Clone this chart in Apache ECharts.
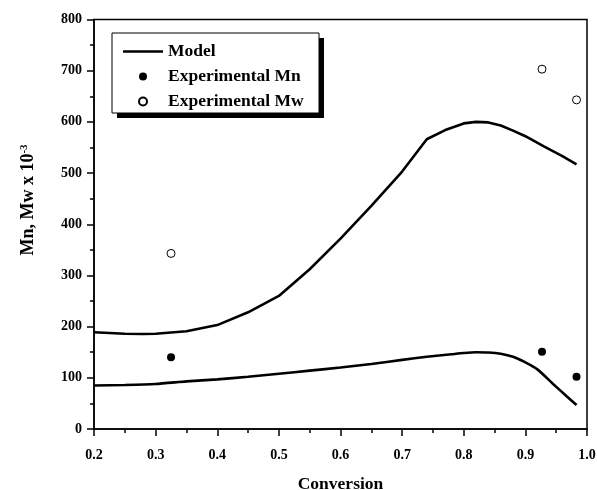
<!DOCTYPE html>
<html>
<head>
<meta charset="utf-8">
<script src="https://cdn.jsdelivr.net/npm/echarts@6/dist/echarts.min.js"></script>
<style>
  html, body { margin: 0; padding: 0; background: #fff; }
  #chart { width: 597px; height: 490px; }
</style>
</head>
<body>
<div id="chart"></div>
<script>
// Model curves: conversion vs. molecular weight (x 10^-3)
const mwConversion = [0.2, 0.25, 0.28, 0.3, 0.35, 0.4, 0.45, 0.5, 0.55, 0.6, 0.65, 0.7, 0.74, 0.77, 0.8, 0.82, 0.84, 0.86, 0.88, 0.9, 0.93, 0.96, 0.983];
const modelMw = [189, 186, 185.5, 186, 191, 203, 228, 260, 312, 372, 436, 503, 566, 584, 597, 600, 599, 593, 583, 572, 552, 533, 517];

const mnConversion = [0.2, 0.25, 0.3, 0.35, 0.4, 0.45, 0.5, 0.55, 0.6, 0.65, 0.7, 0.74, 0.78, 0.8, 0.82, 0.84, 0.86, 0.88, 0.9, 0.92, 0.945, 0.967, 0.983];
const modelMn = [85, 86, 88, 93, 97, 102, 108, 114, 120, 127, 135, 141, 146, 148.5, 150, 149.5, 147, 141, 130, 116, 88, 64, 47];

// Measured points
const expConversion = [0.325, 0.927, 0.983];
const expMn = [140, 151, 102];
const expMw = [343, 703, 643];

const xTickLabels = ['0.2', '0.3', '0.4', '0.5', '0.6', '0.7', '0.8', '0.9', '1.0'];

const FONT = '"Liberation Serif", "Times New Roman", serif';

const pair = (xs, ys) => xs.map((x, i) => [x, ys[i]]);

// legend glyph drawn in a 40 x 8 box: a thick horizontal stroke
const LINE_ICON = 'path://M0,0 M40,8 M0,2.7 L40,2.7 L40,5.3 L0,5.3 Z';

const chart = echarts.init(document.getElementById('chart'), null, { renderer: 'canvas' });

chart.setOption({
  animation: false,
  backgroundColor: '#fff',
  grid: {
    left: 94, right: 10, top: 19.5, bottom: 61,
    outerBoundsMode: 'none', containLabel: false,
    show: true, borderColor: '#000', borderWidth: 1.5, backgroundColor: 'transparent'
  },
  xAxis: {
    type: 'value', min: 0.2, max: 1.0, interval: 0.1,
    name: 'Conversion', nameLocation: 'middle', nameGap: 46,
    nameTextStyle: { fontFamily: FONT, fontWeight: 'bold', fontSize: 17.5, color: '#000' },
    axisLine: { show: true, onZero: false, lineStyle: { color: '#000', width: 1.5 } },
    axisTick: { show: true, inside: false, length: 7, lineStyle: { color: '#000', width: 1.5 } },
    minorTick: { show: true, splitNumber: 2, length: 4, lineStyle: { color: '#000', width: 1.5 } },
    splitLine: { show: false },
    axisLabel: {
      margin: 19, fontFamily: FONT, fontWeight: 'bold', fontSize: 14, color: '#000',
      formatter: (v) => xTickLabels[Math.round((v - 0.2) * 10)] ?? ''
    }
  },
  yAxis: {
    type: 'value', min: 0, max: 800, interval: 100,
    axisLine: { show: true, onZero: false, lineStyle: { color: '#000', width: 1.5 } },
    axisTick: { show: true, inside: false, length: 7, lineStyle: { color: '#000', width: 1.5 } },
    minorTick: { show: true, splitNumber: 2, length: 4, lineStyle: { color: '#000', width: 1.5 } },
    splitLine: { show: false },
    axisLabel: { margin: 12, fontFamily: FONT, fontWeight: 'bold', fontSize: 14, color: '#000' }
  },
  legend: {
    orient: 'vertical', left: 123, top: 39, padding: 0,
    itemWidth: 40, itemHeight: 8, itemGap: 0,
    textStyle: { fontFamily: FONT, fontWeight: 'bold', fontSize: 17.5, lineHeight: 25, color: '#000' },
    data: [
      { name: 'Model', icon: LINE_ICON },
      { name: 'Experimental Mn', icon: 'circle' },
      { name: 'Experimental Mw', icon: 'circle' }
    ],
    z: 20
  },
  graphic: [
    // legend frame with a solid drop shadow
    { type: 'rect', z: 10, shape: { x: 117, y: 38, width: 207, height: 80 }, style: { fill: '#000' } },
    { type: 'rect', z: 11, shape: { x: 112, y: 33, width: 207, height: 80 }, style: { fill: '#fff', stroke: '#000', lineWidth: 1 } },
    {
      type: 'text', z: 12, x: 28, y: 200, rotation: Math.PI / 2,
      style: {
        text: '{a|Mn, Mw x 10}{b|-3}',
        align: 'center', verticalAlign: 'middle',
        rich: {
          a: { fontFamily: FONT, fontWeight: 'bold', fontSize: 18, fill: '#000', verticalAlign: 'bottom' },
          b: { fontFamily: FONT, fontWeight: 'bold', fontSize: 11, fill: '#000', verticalAlign: 'top', padding: [0, 0, 8, 0] }
        }
      }
    }
  ],
  series: [
    {
      name: 'Model', type: 'line', symbol: 'none', smooth: false,
      lineStyle: { color: '#000', width: 2.6 }, itemStyle: { color: '#000' },
      data: pair(mwConversion, modelMw), z: 3
    },
    {
      name: 'Model', type: 'line', symbol: 'none', smooth: 0.2,
      lineStyle: { color: '#000', width: 2.6 }, itemStyle: { color: '#000' },
      data: pair(mnConversion, modelMn), z: 3
    },
    {
      name: 'Experimental Mn', type: 'scatter', symbol: 'circle', symbolSize: 8,
      itemStyle: { color: '#000', opacity: 1 },
      data: pair(expConversion, expMn), z: 4
    },
    {
      name: 'Experimental Mw', type: 'scatter', symbol: 'circle', symbolSize: 8,
      itemStyle: { color: '#fff', borderColor: '#000', borderWidth: 1, opacity: 1 },
      data: pair(expConversion, expMw), z: 4
    }
  ]
});
</script>
</body>
</html>
